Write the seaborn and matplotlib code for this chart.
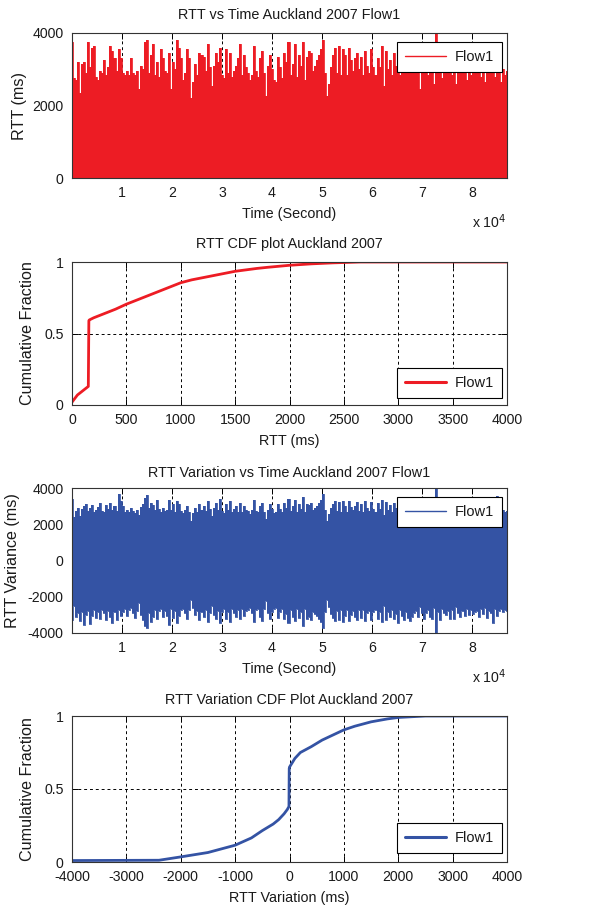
import numpy as np
import pandas as pd
import seaborn as sns
import matplotlib
matplotlib.use("Agg")
import matplotlib.pyplot as plt

# ---------------- data ----------------
time_max = 87000
rtt_time = [
    3750, 2750, 2700, 3200, 2350, 3150, 3200, 2900, 3750, 3050, 3600, 3650, 2800, 2700, 2950, 2900, 3250, 2850, 3050, 3650, 3500, 3300, 2950, 3550, 3300,
    2900, 2850, 2950, 2850, 3300, 2900, 2850, 2950, 2450, 3100, 3000, 3750, 3800, 2900, 3400, 3700, 2850, 3200, 2800, 3550, 3300, 2950, 2900, 3450, 2450,
    3200, 3000, 3800, 3600, 3300, 2700, 2900, 3550, 3300, 2200, 2650, 3150, 2850, 3450, 3400, 3350, 2950, 3700, 3050, 2550, 3100, 3450, 3200, 3600, 2850,
    2750, 3550, 2900, 3450, 2800, 2950, 3100, 3300, 3700, 2850, 3400, 3050, 2900, 2700, 2850, 3650, 2950, 2800, 3300, 3500, 2900, 2250, 3100, 3400, 3000,
    2700, 2650, 3350, 3050, 2750, 3450, 3200, 3750, 2850, 3150, 3700, 2800, 3400, 3100, 3750, 2700, 3350, 3500, 3450, 2950, 3100, 3250, 3400, 3550, 3800,
    2900, 2250, 2600, 3050, 3400, 3600, 2900, 3650, 2850, 3550, 3400, 2850, 3600, 3250, 2950, 3300, 3450, 3000, 3350, 2850, 3500, 3100, 2900, 3550, 3050,
    2850, 3300, 3050, 3650, 2550, 3500, 3000, 3250, 2850, 3450, 3100, 3700, 2850, 3150, 3400, 2950, 3350, 3550, 3250, 3100, 2900, 3250, 2450, 3050, 3350,
    3000, 2850, 3300, 3400, 2600, 4300, 2900, 3500, 2750, 3050, 3150, 2950, 3350, 2850, 3400, 2600, 3000, 3250, 2900, 3200, 2700, 3100, 2850, 3050, 2950,
    2900, 3250, 2800, 3100, 2650, 3350, 2900, 3000, 3050, 2800, 3200, 2900, 2650, 3000, 2850, 2950,
]
var_upper = [
    3400, 2400, 2750, 2900, 2450, 2850, 3000, 3100, 2750, 2900, 3050, 2700, 2800, 2950, 3150, 2750, 2700, 3050, 2850, 3200, 2800, 3000, 2750, 3650, 3300,
    3000, 2700, 2800, 2650, 2900, 2750, 2600, 2800, 2500, 2950, 3100, 3450, 3600, 2900, 3200, 3050, 2800, 3350, 2850, 2700, 2900, 2750, 2800, 3350, 2800,
    3100, 2700, 3300, 3100, 2750, 2600, 2800, 3000, 2700, 2200, 2600, 2900, 2700, 3100, 2800, 3000, 2750, 3300, 2850, 2450, 2900, 3200, 2800, 3400, 2750,
    2600, 3100, 2800, 3300, 2700, 2850, 3000, 2700, 3150, 2650, 3000, 2800, 2750, 2550, 2800, 3350, 2750, 2650, 3000, 3200, 2700, 2300, 2800, 3100, 2850,
    2600, 2650, 3100, 2850, 2650, 3200, 2900, 3400, 2750, 3000, 3350, 2700, 3100, 2850, 3500, 2650, 3100, 3050, 3200, 2800, 2900, 3000, 3150, 3350, 3650,
    2800, 2200, 2550, 2900, 3100, 3300, 2750, 3250, 2700, 3300, 3000, 2700, 3300, 2950, 2800, 3000, 3250, 2750, 3100, 2700, 3300, 2900, 2750, 3250, 2850,
    2700, 3150, 2850, 3350, 2500, 3250, 2800, 3050, 2700, 3200, 2900, 3400, 2750, 3000, 3250, 2800, 3100, 3300, 3050, 2900, 2750, 3050, 2500, 2850, 3150,
    2850, 2700, 3050, 3150, 2550, 4300, 2800, 3250, 2650, 2850, 2950, 2750, 3150, 2700, 3200, 2500, 2850, 3050, 2750, 3000, 2600, 2950, 2700, 2900, 2800,
    2750, 3050, 2650, 2900, 2550, 3100, 2750, 2850, 2900, 2650, 3550, 2750, 2600, 2800, 2700, 2750,
]
var_lower = [
    -3300, -2500, -3100, -2900, -3350, -2850, -3550, -3000, -2800, -3500, -3050, -2750, -3150, -2850, -3200, -2750, -2900, -3300, -2800, -3100, -3450, -2850, -3300, -2750, -3050,
    -2850, -2700, -3050, -2750, -2600, -2900, -3150, -2800, -2350, -3000, -3300, -3600, -3700, -2900, -3400, -3100, -2750, -3250, -2800, -2650, -3100, -2800, -3050, -3550, -2700,
    -3150, -2800, -3450, -3050, -2750, -2650, -2900, -3200, -2750, -2200, -2600, -3000, -2800, -3300, -2850, -3100, -2750, -3400, -2900, -2500, -3000, -3250, -2800, -3450, -2850,
    -2650, -3200, -2850, -3400, -2700, -2900, -3100, -2750, -3250, -2700, -3050, -2800, -2750, -2600, -2900, -3400, -2750, -2700, -3100, -3350, -2700, -2250, -2900, -3200, -2850,
    -2650, -2600, -3150, -2850, -2700, -3250, -2950, -3450, -2750, -3100, -3350, -2700, -3150, -2850, -3600, -2700, -3200, -3100, -3300, -2850, -2950, -3050, -3250, -3400, -3700,
    -2850, -2200, -2550, -2950, -3150, -3350, -2800, -3300, -2750, -3400, -3050, -2750, -3350, -3000, -2800, -3100, -3300, -2750, -3150, -2750, -3350, -2900, -2800, -3300, -2850,
    -2750, -3200, -2850, -3400, -2500, -3300, -2850, -3100, -2750, -3250, -2950, -3450, -2750, -3050, -3300, -2850, -3150, -3350, -3100, -2900, -2800, -3100, -2550, -2900, -3200,
    -2900, -2750, -3100, -3200, -2600, -4300, -2850, -3300, -2700, -2900, -3000, -2800, -3200, -2750, -3250, -2550, -2900, -3100, -2800, -3050, -2650, -3000, -2750, -2950, -2850,
    -2800, -3100, -2700, -2950, -2600, -3150, -2800, -2900, -3450, -2700, -3050, -2800, -2650, -2850, -2750, -2800,
]

rtt_cdf_x = [0, 20, 50, 100, 150, 155, 160, 200, 300, 400, 500, 600, 700, 800, 900, 1000,
             1100, 1200, 1300, 1400, 1500, 1600, 1700, 1800, 1900, 2000, 2200, 2400, 2650, 4000]
rtt_cdf_y = [0.02, 0.04, 0.07, 0.10, 0.13, 0.59, 0.595, 0.61, 0.64, 0.67, 0.705, 0.735, 0.765, 0.795,
             0.825, 0.855, 0.875, 0.89, 0.905, 0.92, 0.935, 0.945, 0.955, 0.963, 0.97, 0.977, 0.987, 0.994, 1.0, 1.0]

var_cdf_x = [-4000, -2400, -2000, -1500, -1000, -700, -500, -300, -200, -100, -40, -10, -5, 0,
             50, 100, 200, 400, 600, 800, 1000, 1200, 1500, 1800, 2000, 2500, 4000]
var_cdf_y = [0.01, 0.012, 0.035, 0.065, 0.115, 0.165, 0.215, 0.26, 0.29, 0.33, 0.36, 0.38, 0.64, 0.65,
             0.68, 0.71, 0.75, 0.79, 0.835, 0.87, 0.905, 0.93, 0.96, 0.98, 0.99, 1.0, 1.0]

time_ticks = [1, 2, 3, 4, 5, 6, 7, 8]

# ---------------- style ----------------
sns.set_style("ticks")
plt.rcParams['font.family'] = ['Liberation Sans', 'DejaVu Sans']
plt.rcParams['font.size'] = 10
plt.rcParams['axes.unicode_minus'] = False
RED = '#ED1C24'
BLUE = '#3453A4'
TXT = '#1a1a1a'

fig = plt.figure(figsize=(6.05, 9.11), dpi=100)
W, H = 605, 911
def add_axes(top, bottom):
    return fig.add_axes([72 / W, 1 - bottom / H, 435 / W, (bottom - top) / H])

ax1 = add_axes(33, 178)
ax2 = add_axes(262, 405)
ax3 = add_axes(488, 633)
ax4 = add_axes(716, 862)

t = np.linspace(0, time_max, len(rtt_time))
df1 = pd.DataFrame({'t': t, 'rtt': rtt_time})
df3 = pd.DataFrame({'t': t, 'up': var_upper, 'lo': var_lower})

# RTT vs time
ax1.fill_between(df1['t'], 0, df1['rtt'], step='mid', color=RED, lw=0)
sns.lineplot(data=df1, x='t', y='rtt', ax=ax1, color=RED, lw=0.6, drawstyle='steps-mid', label='Flow1')

# RTT CDF
sns.lineplot(x=rtt_cdf_x, y=rtt_cdf_y, ax=ax2, color=RED, lw=2, sort=False, label='Flow1')

# RTT variation vs time
ax3.fill_between(df3['t'], df3['lo'], df3['up'], step='mid', color=BLUE, lw=0)
sns.lineplot(data=df3, x='t', y='up', ax=ax3, color=BLUE, lw=0.6, drawstyle='steps-mid', label='Flow1')
sns.lineplot(data=df3, x='t', y='lo', ax=ax3, color=BLUE, lw=0.6, drawstyle='steps-mid')

# Variation CDF
sns.lineplot(x=var_cdf_x, y=var_cdf_y, ax=ax4, color=BLUE, lw=2, sort=False, label='Flow1')

titles = ["RTT vs Time Auckland 2007 Flow1", "RTT CDF plot Auckland 2007",
          "RTT Variation vs Time Auckland 2007 Flow1", "RTT Variation CDF Plot Auckland 2007"]
xlabels = ["Time (Second)", "RTT (ms)", "Time (Second)", "RTT Variation (ms)"]
ylabels = ["RTT (ms)", "Cumulative Fraction", "RTT Variance (ms)", "Cumulative Fraction"]
ylab_x = [-0.103, -0.085, -0.12, -0.085]
pads = [10, 10, 8, 9]

for ax, ti, xl, yl, yx, pd_ in zip([ax1, ax2, ax3, ax4], titles, xlabels, ylabels, ylab_x, pads):
    ax.set_title(ti, fontsize=10.4, pad=pd_, color=TXT)
    ax.set_xlabel(xl, fontsize=10.4, color=TXT, labelpad=5)
    ax.set_ylabel(yl, fontsize=11.6, color=TXT)
    ax.yaxis.set_label_coords(yx, 0.5)
    ax.grid(True, color='black', linestyle=(0, (3, 3)), lw=0.7)
    ax.set_axisbelow(True)
    ax.tick_params(direction='in', length=4, width=0.7, top=True, right=True,
                   labelsize=10.2, colors='black', labelcolor=TXT, pad=6)
    for s in ax.spines.values():
        s.set_color('#333333')
        s.set_linewidth(0.8)

for ax in (ax1, ax3):
    ax.set_xlim(0, time_max)
    ax.set_xticks([v * 1e4 for v in time_ticks])
    ax.set_xticklabels([str(v) for v in time_ticks])
    ax.text(1.0, -0.30, r"x 10$^4$", transform=ax.transAxes, ha='right', va='center',
            fontsize=10.2, color=TXT)

ax1.set_ylim(0, 4000)
ax1.set_yticks([0, 2000, 4000])
ax3.set_ylim(-4000, 4000)
ax3.set_yticks([-4000, -2000, 0, 2000, 4000])

ax2.set_xlim(0, 4000)
ax2.set_xticks(range(0, 4001, 500))
ax4.set_xlim(-4000, 4000)
ax4.set_xticks(range(-4000, 4001, 1000))
for ax in (ax2, ax4):
    ax.set_ylim(0, 1)
    ax.set_yticks([0, 0.5, 1])
    ax.set_yticklabels(['0', '0.5', '1'])

def legend(ax, loc, anchor, lw):
    leg = ax.legend(loc=loc, bbox_to_anchor=anchor, borderaxespad=0, fancybox=False,
                    framealpha=1, edgecolor='black', fontsize=10.5, handlelength=2.8,
                    borderpad=0.55, handletextpad=0.6)
    leg.get_frame().set_linewidth(0.8)
    for h in leg.get_lines():
        h.set_linewidth(lw)
    for tx in leg.get_texts():
        tx.set_color(TXT)
    return leg

legend(ax1, 'upper right', (0.9885, 0.938), 1.0)
legend(ax2, 'lower right', (0.9885, 0.049), 2.2)
legend(ax3, 'upper right', (0.9885, 0.938), 1.0)
legend(ax4, 'lower right', (0.9885, 0.062), 2.2)

fig.savefig("out.png", dpi=100)
